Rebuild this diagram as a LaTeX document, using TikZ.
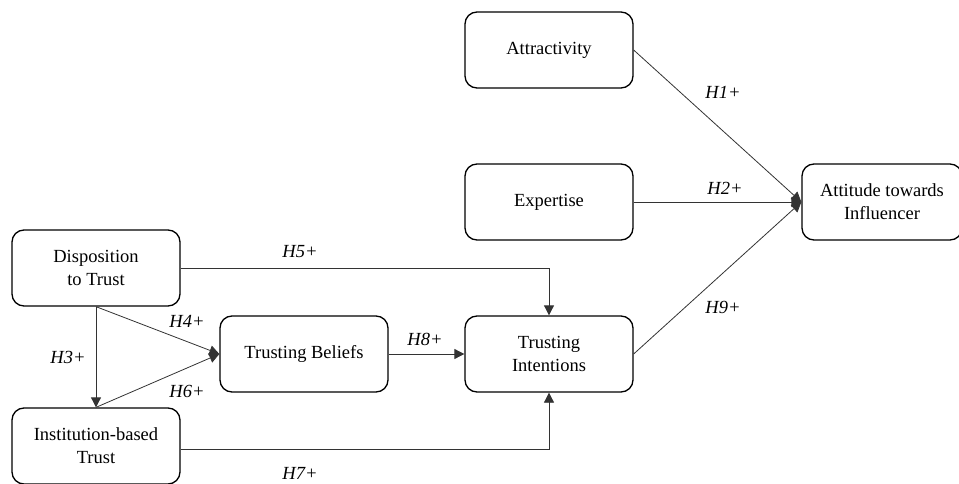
\documentclass[tikz,border=0pt]{standalone}
\usepackage{fontspec}
\setmainfont{Liberation Serif}
\usetikzlibrary{arrows.meta}
\begin{document}
\begin{tikzpicture}[x=1pt,y=-1pt,
  box/.style={draw, line width=1.3pt, rounded corners=12pt, minimum width=168pt, minimum height=76pt, align=center, font=\fontsize{18.5}{23}\selectfont, inner sep=0pt},
  conn/.style={draw=black!80, line width=0.8pt, -{Triangle[length=10pt,width=10pt]}},
  lbl/.style={font=\fontsize{18.5}{20}\selectfont\itshape, inner sep=0pt}]
\useasboundingbox (0,0) rectangle (959,484);
\node[box] (att) at (549,50) {Attractivity};
\node[box] (exp) at (549,202) {Expertise};
\node[box, minimum width=160pt] (atf) at (882,202) {Attitude towards\\Influencer};
\node[box] (dt) at (96,268) {Disposition\\to Trust};
\node[box] (tb) at (304,354) {Trusting Beliefs};
\node[box] (ti) at (549,354) {Trusting\\Intentions};
\node[box] (ib) at (96,446) {Institution-based\\Trust};
\coordinate (c1) at (549,268);
\coordinate (c2) at (549,449);
\draw[conn] (att.east |- 0,50) -- (atf.west);
\draw[conn] (exp.east) -- (atf.west);
\draw[conn] (ti.east) -- (atf.west);
\draw[conn] (dt.south) -- (ib.north);
\draw[conn] (dt.south) -- (tb.west);
\draw[conn] (ib.north) -- (tb.west);
\draw[conn] (dt.east) -- (c1) -- (ti.north);
\draw[conn] (ib.east |- c2) -- (c2) -- (ti.south);
\draw[conn] (tb.east) -- (ti.west);
\node[lbl] (h1) at (723,92) {H1+};
\node[lbl] (h2) at (725,188) {H2+};
\node[lbl] (h9) at (723,307) {H9+};
\node[lbl] (h5) at (300,252) {H5+};
\node[lbl] (h7) at (300,473) {H7+};
\node[lbl] (h3) at (68,357) {H3+};
\node[lbl] (h4) at (187,321) {H4+};
\node[lbl] (h6) at (187,391) {H6+};
\node[lbl] (h8) at (425,339) {H8+};
\end{tikzpicture}
\end{document}
